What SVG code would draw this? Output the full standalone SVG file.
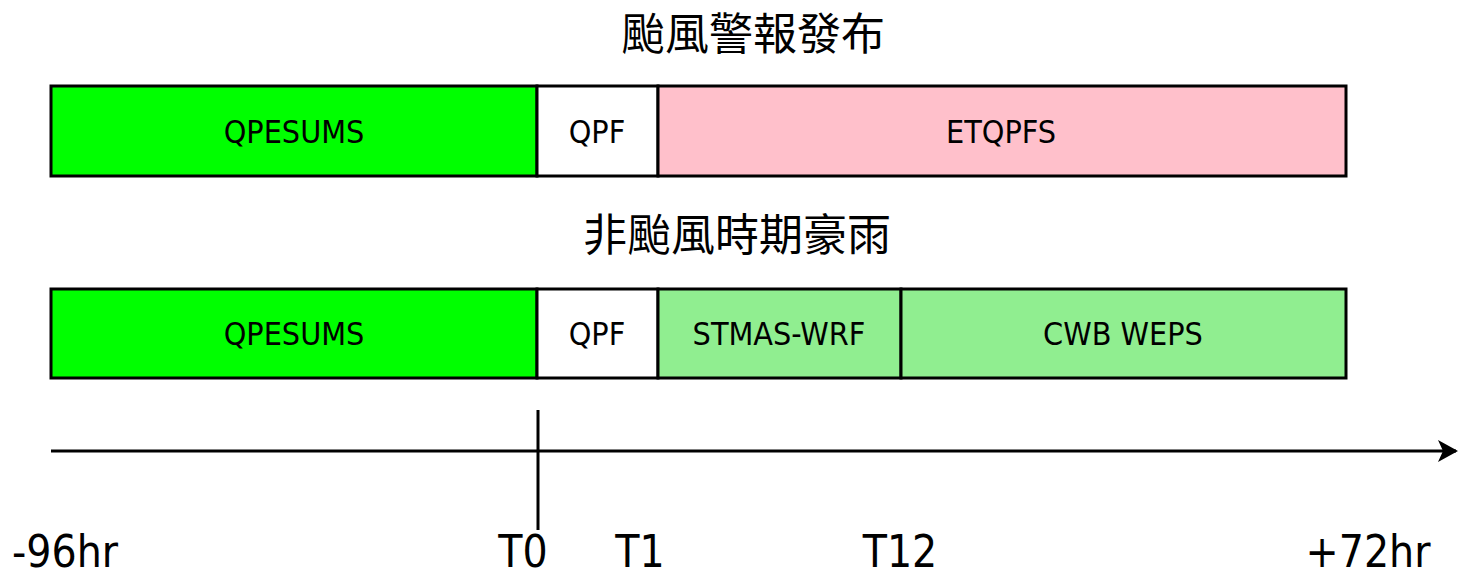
<svg xmlns="http://www.w3.org/2000/svg" width="1459" height="577" viewBox="0 0 1459 577">
<defs>
<style>
.bar{stroke:#000;stroke-width:3}
.lbl{font-family:"DejaVu Sans Condensed","DejaVu Sans",sans-serif;font-size:32px;text-anchor:middle;fill:#000}
.ttl{font-family:"Noto Sans CJK TC","Noto Sans CJK SC",sans-serif;font-size:44px;text-anchor:middle;fill:#000}
.ax{font-family:"DejaVu Sans Condensed","DejaVu Sans",sans-serif;font-size:44px;fill:#000}
.ln{stroke:#000;stroke-width:3;fill:none}
</style>
<marker id="arr" markerWidth="20" markerHeight="22" refX="18" refY="11" orient="auto" markerUnits="userSpaceOnUse" viewBox="0 0 20 22">
<path d="M0,0 L20,11 L0,22 L5,11 Z" fill="#000"/>
</marker>
</defs>
<rect width="1459" height="577" fill="#fff"/>
<text class="ttl" x="753" y="50">颱風警報發布</text>
<text class="ttl" x="737" y="251">非颱風時期豪雨</text>
<g id="row1">
<g id="r1-qpesums"><rect class="bar" x="51" y="86" width="486" height="90" fill="#00ff00"/><text class="lbl" x="294" y="143">QPESUMS</text></g>
<g id="r1-qpf"><rect class="bar" x="537" y="86" width="121" height="90" fill="#fff"/><text class="lbl" x="597" y="143">QPF</text></g>
<g id="r1-etqpfs"><rect class="bar" x="658" y="86" width="688" height="90" fill="#ffc0cb"/><text class="lbl" x="1001" y="143">ETQPFS</text></g>
</g>
<g id="row2">
<g id="r2-qpesums"><rect class="bar" x="51" y="289" width="486" height="89" fill="#00ff00"/><text class="lbl" x="294" y="345">QPESUMS</text></g>
<g id="r2-qpf"><rect class="bar" x="537" y="289" width="121" height="89" fill="#fff"/><text class="lbl" x="597" y="345">QPF</text></g>
<g id="r2-stmas"><rect class="bar" x="658" y="289" width="243" height="89" fill="#90ee90"/><text class="lbl" x="779" y="345">STMAS-WRF</text></g>
<g id="r2-weps"><rect class="bar" x="901" y="289" width="445" height="89" fill="#90ee90"/><text class="lbl" x="1123" y="345">CWB WEPS</text></g>
</g>
<g id="connectors">
<line class="ln" x1="51" y1="451" x2="1456" y2="451" marker-end="url(#arr)"/>
<line class="ln" x1="538" y1="410" x2="538" y2="530"/>
</g>
<g id="axis-labels">
<text class="ax" x="12" y="567">-96hr</text>
<text class="ax" x="523" y="567" text-anchor="middle">T0</text>
<text class="ax" x="640" y="567" text-anchor="middle">T1</text>
<text class="ax" x="900" y="567" text-anchor="middle">T12</text>
<text class="ax" x="1368" y="567" text-anchor="middle">+72hr</text>
</g>
</svg>
